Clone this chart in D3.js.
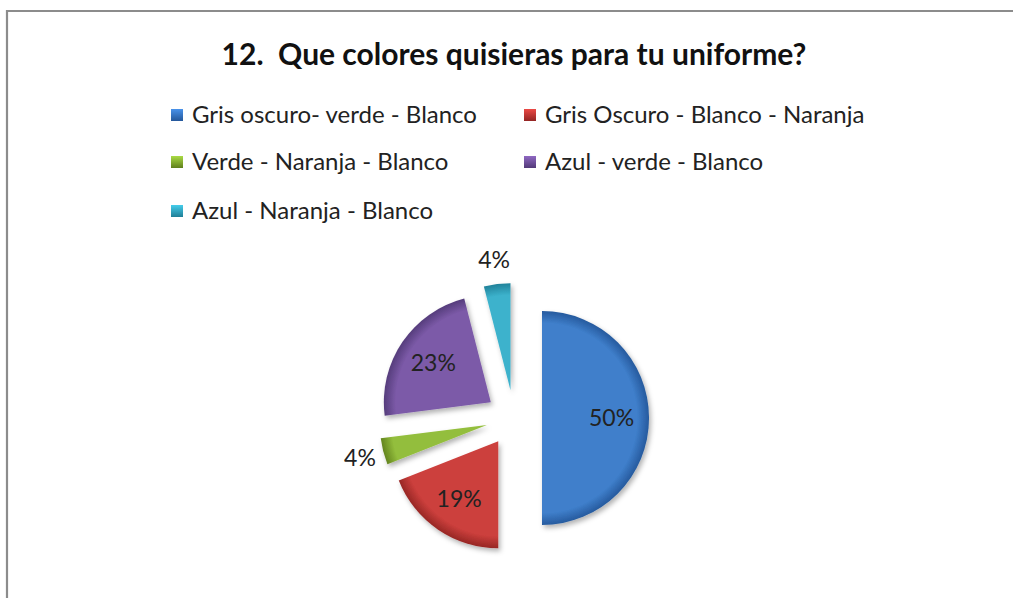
<!DOCTYPE html>
<html>
<head>
<meta charset="utf-8">
<script src="https://cdn.jsdelivr.net/npm/d3@7"></script>
<style>
  body { margin: 0; background: #fff; }
  svg text { font-family: "Lato", "Open Sans", sans-serif; }
</style>
</head>
<body>
<svg id="chart" width="1013" height="598"></svg>
<script>
// chart data
var titleText = "12.  Que colores quisieras para tu uniforme?";
var categories = ["Gris oscuro- verde - Blanco", "Gris Oscuro - Blanco - Naranja",
    "Verde - Naranja - Blanco", "Azul - verde - Blanco", "Azul - Naranja - Blanco"];
var percentValues = [50, 19, 4, 23, 4];
var sliceColors = ["#3f7fcb", "#cc3f3c", "#93be3c", "#7c5aa8", "#3cb2cc"];
var darkColors = ["#24579a", "#932523", "#5f7f1c", "#523a78", "#1f7e96"];

var svg = d3.select("#chart");
var defs = svg.append("defs");

// frame of the chart area
svg.append("path")
    .attr("d", "M7,598 V11 H1013")
    .attr("fill", "none")
    .attr("stroke", "#8c8c8c")
    .attr("stroke-width", 2.2);

// title
svg.append("text")
    .attr("x", 514)
    .attr("y", 65)
    .attr("text-anchor", "middle")
    .attr("font-size", 30)
    .attr("font-weight", "bold")
    .attr("fill", "#111")
    .style("white-space", "pre")
    .text(titleText);

// gradients for the bevelled look
categories.forEach(function(c, i) {
    var g = defs.append("radialGradient")
        .attr("id", "grad" + i)
        .attr("gradientUnits", "userSpaceOnUse")
        .attr("cx", 0).attr("cy", 0).attr("r", 108);
    g.append("stop").attr("offset", "0%").attr("stop-color", sliceColors[i]);
    g.append("stop").attr("offset", "88%").attr("stop-color", sliceColors[i]);
    g.append("stop").attr("offset", "100%").attr("stop-color", darkColors[i]);

    var lg = defs.append("linearGradient")
        .attr("id", "leg" + i)
        .attr("x1", 0).attr("y1", 0).attr("x2", 0).attr("y2", 1);
    lg.append("stop").attr("offset", "0%").attr("stop-color", d3.color(sliceColors[i]).brighter(0.4));
    lg.append("stop").attr("offset", "100%").attr("stop-color", darkColors[i]);
});

var shadow = defs.append("filter").attr("id", "shadow")
    .attr("x", "-30%").attr("y", "-30%").attr("width", "160%").attr("height", "160%");
shadow.append("feDropShadow")
    .attr("dx", 2).attr("dy", 3).attr("stdDeviation", 2.5)
    .attr("flood-color", "#000").attr("flood-opacity", 0.3);

// legend
var legendX = [171, 524];
var legendY = [115, 162, 211];
var legend = svg.append("g");
categories.forEach(function(name, i) {
    var col = i % 2, row = Math.floor(i / 2);
    var item = legend.append("g")
        .attr("transform", "translate(" + legendX[col] + "," + legendY[row] + ")");
    item.append("rect")
        .attr("x", 0).attr("y", -6)
        .attr("width", 12).attr("height", 12)
        .attr("fill", "url(#leg" + i + ")");
    item.append("text")
        .attr("x", 21)
        .attr("y", 8)
        .attr("font-size", 24)
        .attr("fill", "#222")
        .text(name);
});

// pie
var radius = 107;
var explode = 28;
var center = [514, 418];

var pie = d3.pie().sort(null).value(function(d) { return d; });
var arc = d3.arc().innerRadius(0).outerRadius(radius);
var arcs = pie(percentValues);

var pieGroup = svg.append("g")
    .attr("transform", "translate(" + center[0] + "," + center[1] + ")");

var slices = pieGroup.selectAll("g.slice")
    .data(arcs)
    .enter().append("g")
    .attr("class", "slice")
    .attr("transform", function(d) {
        var a = (d.startAngle + d.endAngle) / 2;
        return "translate(" + (Math.sin(a) * explode) + "," + (-Math.cos(a) * explode) + ")";
    });

slices.append("path")
    .attr("d", arc)
    .attr("fill", function(d, i) { return "url(#grad" + i + ")"; })
    .attr("filter", "url(#shadow)");

// percentage labels, small slices get their label outside
slices.append("text")
    .attr("transform", function(d) {
        var a = (d.startAngle + d.endAngle) / 2;
        var dist = d.value < 5 ? radius + 24 : radius * 0.65;
        return "translate(" + (Math.sin(a) * dist) + "," + (-Math.cos(a) * dist) + ")";
    })
    .attr("dy", "0.35em")
    .attr("text-anchor", "middle")
    .attr("font-size", 23)
    .attr("fill", "#222")
    .text(function(d) { return d.value + "%"; });
</script>
</body>
</html>
